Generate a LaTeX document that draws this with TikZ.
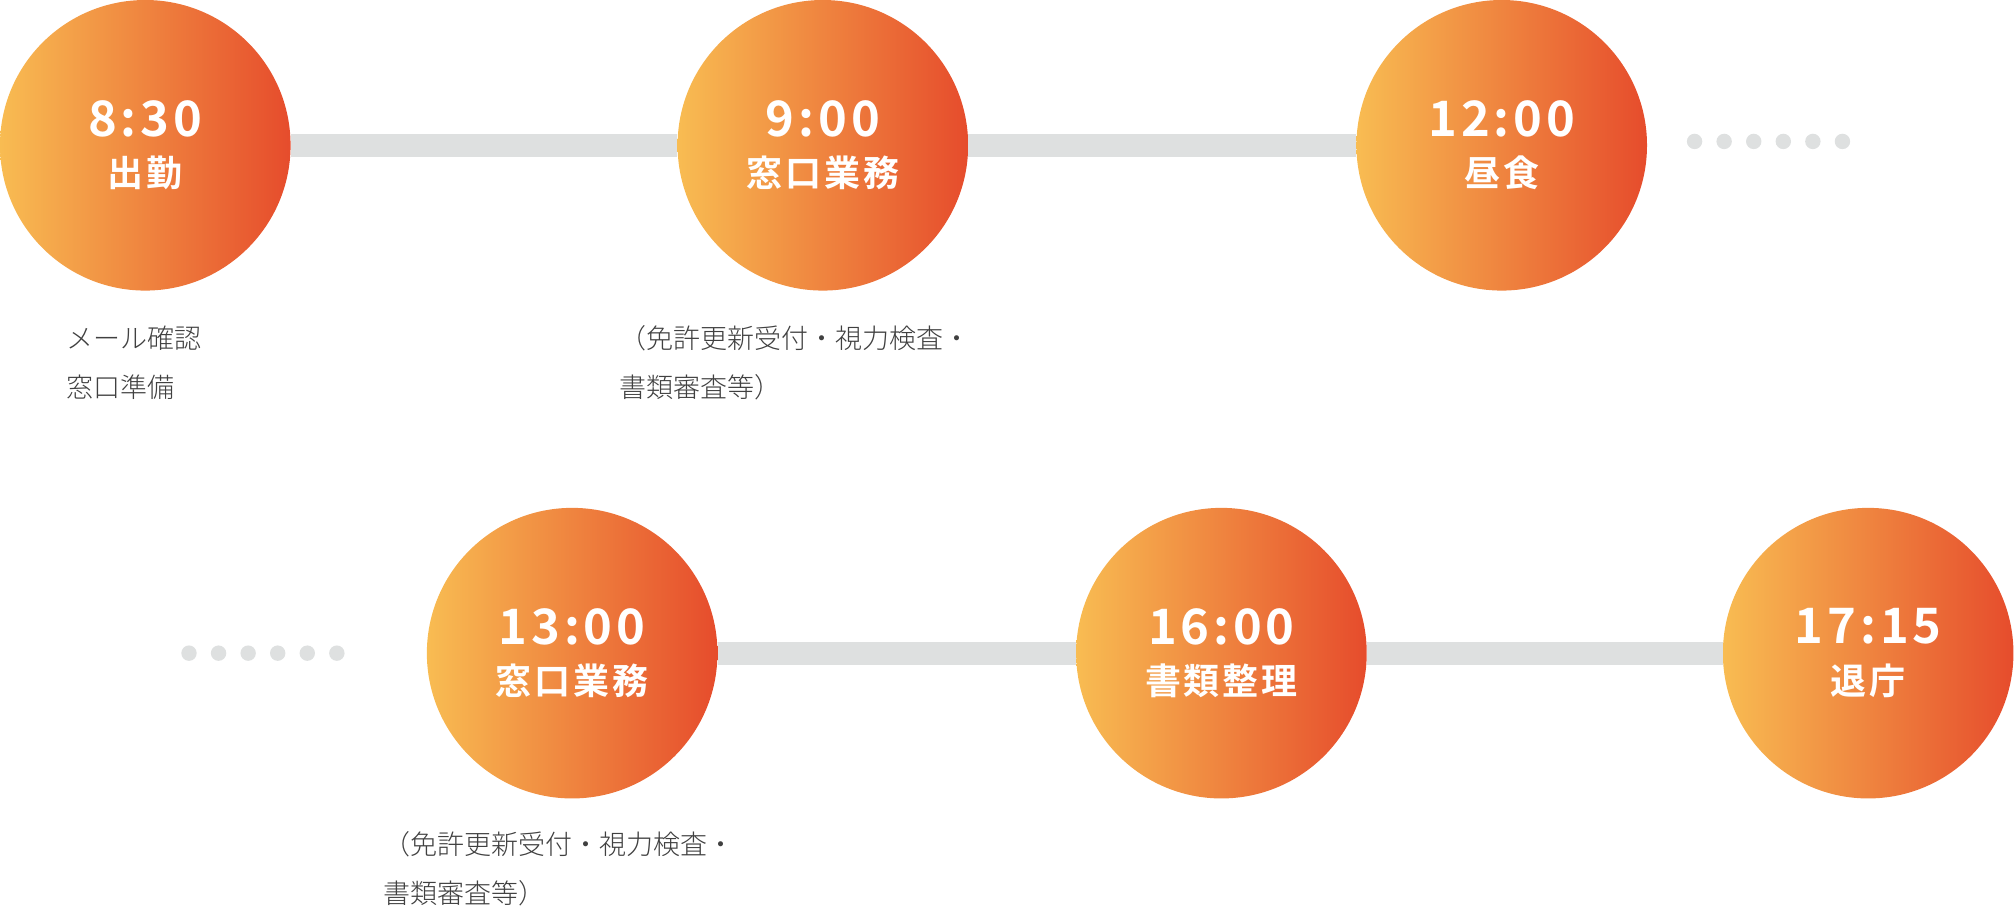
\documentclass[tikz,border=0pt]{standalone}
\usepackage{fontspec}
\newfontfamily\jpb[LetterSpace=8]{Noto Sans CJK JP Bold}
\newfontfamily\jpl{Noto Sans CJK JP Light}
\definecolor{gA}{RGB}{248,188,82}
\definecolor{gB}{RGB}{230,76,44}
\definecolor{barc}{RGB}{222,224,224}
\begin{document}
\begin{tikzpicture}[x=1pt,y=-1pt,
  stage/.style={circle,minimum size=226pt,inner sep=0pt,left color=gA,right color=gB,align=center,text=white},
  bar/.style={line width=18pt,color=barc},
  dotc/.style={circle,fill=barc,minimum size=12pt,inner sep=0pt},
  note/.style={anchor=west,font=\jpl\fontsize{21}{38}\selectfont,text=black!75,align=left}]
\useasboundingbox (0,0) rectangle (1568,710);
\def\st#1#2{{\jpb\fontsize{38}{40}\selectfont #1}\\[14pt]{\jpb\fontsize{28}{30}\selectfont #2}}
\foreach \n/\p/\t/\l in {a/{113,113}/8:30/出勤, b/{640,113}/9:00/窓口業務, c/{1168,113}/12:00/昼食, d/{445,508}/13:00/窓口業務, e/{950,508}/16:00/書類整理, f/{1453,508}/17:15/退庁}
  \node[stage] (\n) at (\p) {\st{\t}{\l}};
\draw[bar] (a.east) -- (b.west);
\draw[bar] (b.east) -- (c.west);
\draw[bar] (d.east) -- (e.west);
\draw[bar] (e.east) -- (f.west);
\foreach \i in {0,...,5} {
  \node[dotc] (t\i) at (1318+\i*23,110) {};
  \node[dotc] (u\i) at (147+\i*23,508) {};
}
\node[note] (n1) at (48,282) {メール確認\\窓口準備};
\node[note] (n2) at (478,282) {（免許更新受付・視力検査・\\書類審査等）};
\node[note] (n3) at (295,676) {（免許更新受付・視力検査・\\書類審査等）};
\end{tikzpicture}
\end{document}
